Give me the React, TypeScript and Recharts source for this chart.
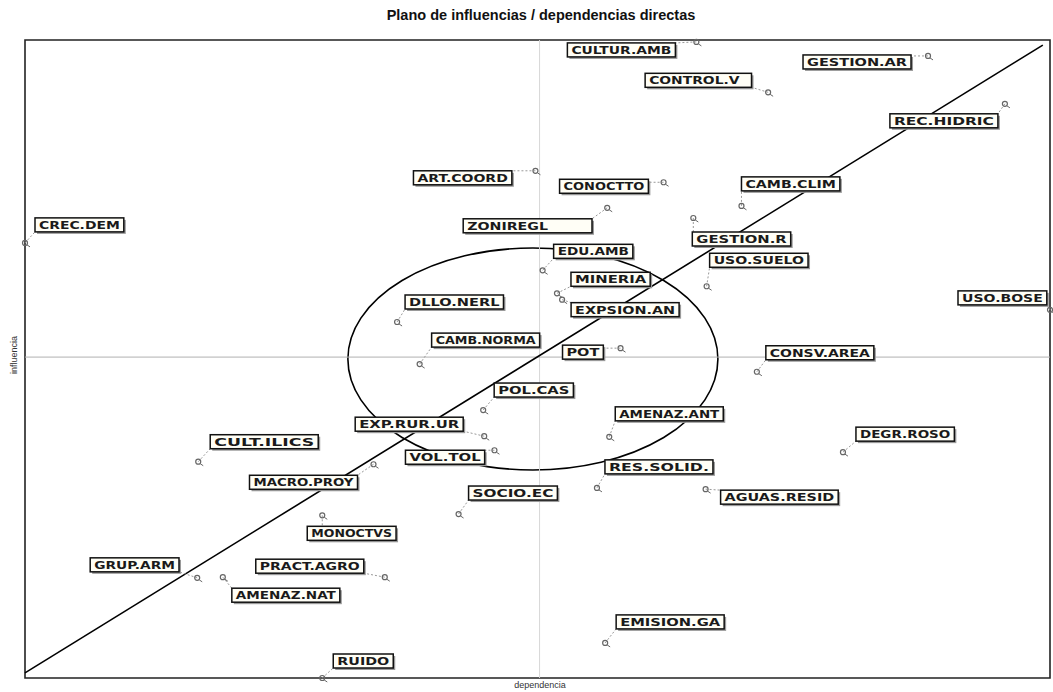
import {
  ScatterChart,
  Scatter,
  XAxis,
  YAxis,
  ReferenceLine,
  ReferenceArea,
} from "recharts";

// variable short names, as MICMAC prints them
const VARIABLES = [
  "CULTUR.AMB", "GESTION.AR", "CONTROL.V", "REC.HIDRIC", "ART.COORD",
  "CONOCTTO", "CAMB.CLIM", "CREC.DEM", "ZONIREGL", "GESTION.R",
  "EDU.AMB", "USO.SUELO", "MINERIA", "EXPSION.AN", "USO.BOSE",
  "DLLO.NERL", "CAMB.NORMA", "POT", "CONSV.AREA", "POL.CAS",
  "AMENAZ.ANT", "EXP.RUR.UR", "CULT.ILICS", "DEGR.ROSO", "VOL.TOL",
  "MACRO.PROY", "RES.SOLID.", "AGUAS.RESID", "SOCIO.EC", "MONOCTVS",
  "GRUP.ARM", "PRACT.AGRO", "AMENAZ.NAT", "EMISION.GA", "RUIDO",
];

// dependencia (x) and influencia (y), same order as VARIABLES
const DEPENDENCE = [
  65.5, 88.1, 72.5, 95.6, 49.8,
  62.3, 69.9, 0, 56.8, 65.2,
  50.5, 66.5, 51.9, 52.4, 100,
  36.3, 38.5, 58.1, 71.4, 44.7,
  57.0, 44.8, 16.9, 79.8, 45.8,
  34.0, 55.8, 66.4, 42.3, 29.0,
  16.8, 35.1, 19.3, 56.6, 29.0,
];
const INFLUENCE = [
  99.7, 97.5, 91.8, 90.0, 79.5,
  77.7, 74.0, 68.2, 73.7, 72.1,
  63.9, 61.4, 60.3, 59.3, 57.7,
  55.8, 49.2, 51.7, 48.0, 42.0,
  37.8, 37.9, 33.9, 35.4, 35.7,
  33.5, 29.8, 29.6, 25.7, 25.5,
  15.7, 15.8, 15.8, 5.5, 0,
];

const MEAN_DEPENDENCE = 50.2;
const MEAN_INFLUENCE = 50.3;

// where each label box sits relative to its point (left edge, vertical centre), px
const LABEL_OFFSETS: Record<string, [number, number]> = {
  "CULTUR.AMB": [-129, 8],
  "GESTION.AR": [-125, 6],
  "CONTROL.V": [-123, -12],
  "REC.HIDRIC": [-115, 17],
  "ART.COORD": [-122, 7],
  CONOCTTO: [-104, 4],
  "CAMB.CLIM": [0, -22],
  "CREC.DEM": [10, -18],
  ZONIREGL: [-144, 18],
  "GESTION.R": [-1, 21],
  "EDU.AMB": [11, -19],
  "USO.SUELO": [3, -26],
  MINERIA: [14, -14],
  "EXPSION.AN": [9, 10],
  "USO.BOSE": [-92, -12],
  "DLLO.NERL": [8, -20],
  "CAMB.NORMA": [12, -24],
  POT: [-58, 4],
  "CONSV.AREA": [9, -19],
  "POL.CAS": [11, -20],
  "AMENAZ.ANT": [6, -23],
  "EXP.RUR.UR": [-129, -12],
  "CULT.ILICS": [12, -20],
  "DEGR.ROSO": [13, -18],
  "VOL.TOL": [-89, 7],
  "MACRO.PROY": [-124, 18],
  "RES.SOLID.": [8, -21],
  "AGUAS.RESID": [15, 8],
  "SOCIO.EC": [10, -21],
  MONOCTVS: [-15, 18],
  "GRUP.ARM": [-107, -13],
  "PRACT.AGRO": [-129, -11],
  "AMENAZ.NAT": [9, 18],
  "EMISION.GA": [11, -21],
  RUIDO: [11, -17],
};

// a few boxes are drawn wider than their text
const EXTRA_WIDTH: Record<string, number> = { ZONIREGL: 40, "CONTROL.V": 8 };

const points = VARIABLES.map((name, i) => ({
  name,
  dependencia: DEPENDENCE[i],
  influencia: INFLUENCE[i],
}));

function LabeledPoint(props: any) {
  const { cx, cy, payload } = props;
  if (cx == null || cy == null) return null;
  const name: string = payload.name;
  const [dx, dy] = LABEL_OFFSETS[name] ?? [8, -16];
  const textW = name.length * 9.6 + 4;
  const w = textW + 8 + (EXTRA_WIDTH[name] ?? 0);
  const h = 14;
  const bx = cx + dx;
  const by = cy + dy - h / 2;
  // leader goes to the nearest point of the box
  const lx = Math.min(Math.max(cx, bx), bx + w);
  const ly = Math.min(Math.max(cy, by), by + h);
  return (
    <g>
      <line x1={cx} y1={cy} x2={lx} y2={ly} stroke="#999" strokeWidth={1} strokeDasharray="2 2" />
      <circle cx={cx} cy={cy} r={2.5} fill="none" stroke="#666" strokeWidth={1.2} />
      <line x1={cx + 2} y1={cy + 2} x2={cx + 5} y2={cy + 4} stroke="#666" strokeWidth={1} />
      <rect x={bx + 2} y={by + 2} width={w} height={h} fill="#9a9a9a" />
      <rect x={bx} y={by} width={w} height={h} fill="#fffef6" stroke="#111" strokeWidth={1.5} />
      <text
        x={bx + 4}
        y={by + h / 2 + 4}
        fontSize={11}
        fontWeight="bold"
        fontFamily="DejaVu Sans, sans-serif"
        fill="#1a1a1a"
        textLength={textW}
        lengthAdjust="spacingAndGlyphs"
      >
        {name}
      </text>
    </g>
  );
}

export default function App() {
  return (
    <div
      style={{
        position: "absolute",
        left: 0,
        top: 0,
        width: 1053,
        height: 692,
        background: "#fff",
        fontFamily: "'Liberation Sans', Arial, sans-serif",
      }}
    >
      <div
        style={{
          position: "absolute",
          left: 0,
          width: 1082,
          top: 7,
          textAlign: "center",
          fontSize: 14.5,
          fontWeight: "bold",
          color: "#111",
        }}
      >
        Plano de influencias / dependencias directas
      </div>
      <div
        style={{
          position: "absolute",
          left: 14,
          top: 355,
          fontSize: 9,
          color: "#333",
          transform: "translate(-50%, -50%) rotate(-90deg)",
        }}
      >
        influencia
      </div>
      <div
        style={{
          position: "absolute",
          left: 540,
          top: 680,
          fontSize: 9,
          color: "#333",
          transform: "translateX(-50%)",
        }}
      >
        dependencia
      </div>
      <ScatterChart
        width={1053}
        height={692}
        margin={{ top: 40, right: 3, bottom: 14, left: 25 }}
      >
        <XAxis type="number" dataKey="dependencia" domain={[0, 100]} hide />
        <YAxis type="number" dataKey="influencia" domain={[0, 100]} hide />
        <ReferenceArea
          x1={0}
          x2={100}
          y1={0}
          y2={100}
          fill="none"
          stroke="#222"
          strokeWidth={1.6}
          ifOverflow="visible"
        />
        <ReferenceLine x={MEAN_DEPENDENCE} stroke="#d8d8d8" strokeWidth={1} />
        <ReferenceLine y={MEAN_INFLUENCE} stroke="#b0b0b0" strokeWidth={1} />
        <ReferenceLine
          segment={[
            { x: 0, y: 0.8 },
            { x: 99.3, y: 99.2 },
          ]}
          stroke="#000"
          strokeWidth={1.6}
          ifOverflow="visible"
        />
        <ReferenceArea
          x1={31.5}
          x2={67.6}
          y1={32.6}
          y2={67.4}
          ifOverflow="visible"
          shape={(p: any) => (
            <ellipse
              cx={p.x + p.width / 2}
              cy={p.y + p.height / 2}
              rx={p.width / 2}
              ry={p.height / 2}
              fill="none"
              stroke="#000"
              strokeWidth={1.6}
            />
          )}
        />
        <Scatter
          data={points}
          isAnimationActive={false}
          shape={(p: any) => <LabeledPoint {...p} />}
        />
      </ScatterChart>
    </div>
  );
}
